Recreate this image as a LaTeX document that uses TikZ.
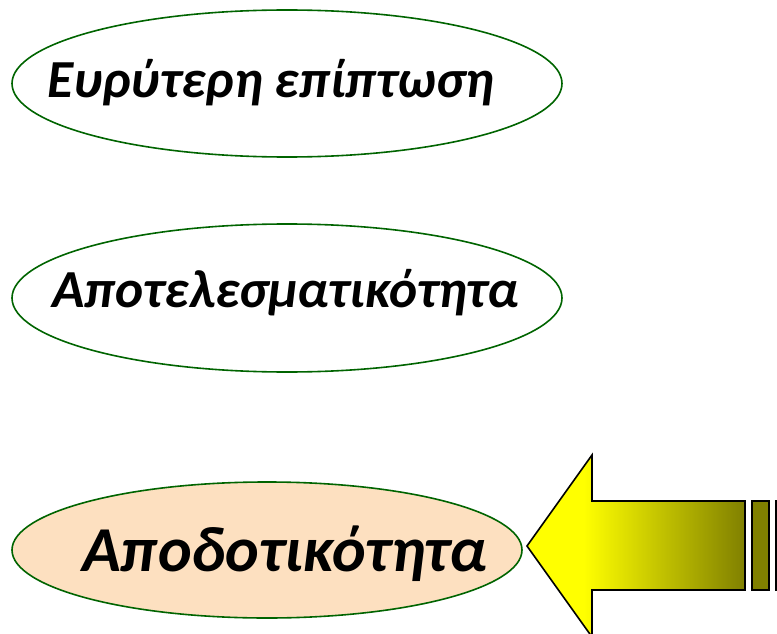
\documentclass[tikz,border=0pt]{standalone}
\usepackage{fontspec}
\setmainfont{Carlito}
\usetikzlibrary{shapes.geometric}
\definecolor{bordergreen}{RGB}{0,100,0}
\definecolor{peach}{RGB}{253,224,192}
\definecolor{olivedark}{RGB}{128,128,0}
\definecolor{brightyellow}{RGB}{255,255,0}
\pgfdeclarehorizontalshading{arrowshade}{100bp}{color(0bp)=(brightyellow); color(38bp)=(brightyellow); color(75bp)=(olivedark); color(100bp)=(olivedark)}
\begin{document}
\begin{tikzpicture}[x=1pt,y=-1pt,
  oval/.style={draw=bordergreen,line width=1.6pt,ellipse,inner sep=0pt},
  txt/.style={anchor=base west,inner sep=0pt}]
\useasboundingbox (0,0) rectangle (777,634);
\clip (0,0) rectangle (777,634);
\node[oval,minimum width=550pt,minimum height=147pt] (e1) at (287,83.5) {};
\node[oval,minimum width=550pt,minimum height=148pt] (e2) at (287,298) {};
\node[oval,fill=peach,minimum width=510pt,minimum height=136pt] (e3) at (267,550) {};
\node[txt,font=\fontsize{53.5}{60}\selectfont\bfseries\itshape] (t1) at (47,98) {Ευρύτερη επίπτωση};
\node[txt,font=\fontsize{53.5}{60}\selectfont\bfseries\itshape] (t2) at (52,307) {Αποτελεσματικότητα};
\node[txt,font=\fontsize{64}{72}\selectfont\bfseries\itshape] (t3) at (82,571) {Αποδοτικότητα};
\shade[shading=arrowshade,draw=black,line width=1.6pt]
  (527,546) -- (592,455) -- (592,501) -- (745,501) -- (745,590) -- (592,590) -- (592,637) -- cycle;
\draw[fill=olivedark,draw=black,line width=1.6pt] (752,501) rectangle (769,590);
\draw[fill=olivedark,draw=black,line width=1.6pt] (776,501) rectangle (790,590);
\end{tikzpicture}
\end{document}
